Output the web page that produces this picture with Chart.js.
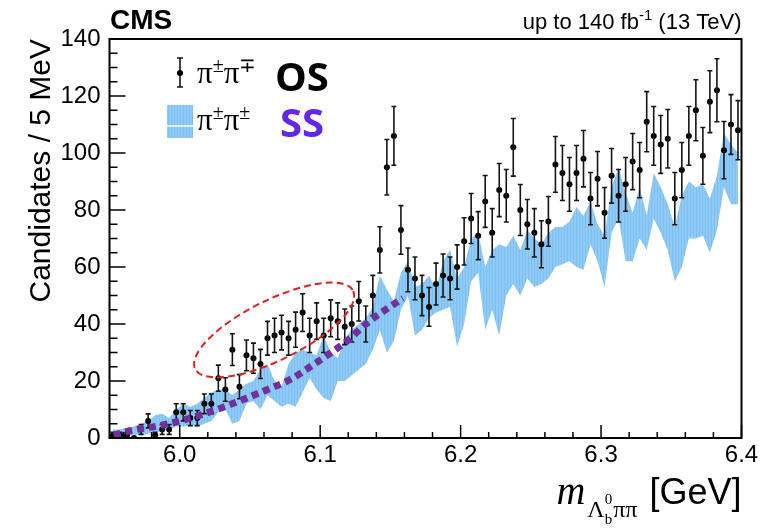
<!DOCTYPE html>
<html>
<head>
<meta charset="utf-8">
<script src="https://cdn.jsdelivr.net/npm/chart.js@4.4.1/dist/chart.umd.min.js"></script>
<style>
  html, body { margin: 0; padding: 0; background: #fff; }
  #wrap { width: 775px; height: 528px; }
</style>
</head>
<body>
<div id="wrap"><canvas id="massChart" width="775" height="528"></canvas></div>
<script>
// mass window, 5 MeV bins
const xMin = 5.95;
const xMax = 6.4;
const binWidth = 0.005;
const xTickLabels = [6.0, 6.1, 6.2, 6.3, 6.4];
const yTickLabels = [0, 20, 40, 60, 80, 100, 120, 140];

// opposite-sign pions (OS), candidates per bin
const osCounts = [
  1, 1, 1, 0, 3, 6, 1, 3, 3, 9,
  9, 7, 7, 12, 12, 21, 17, 31, 18, 29,
  28, 26, 35, 36, 37, 35, 38, 44, 36, 41,
  36, 42, 41, 39, 40, 48, 40, 50, 66, 95,
  106, 73, 59, 56, 50, 46, 54, 57, 56, 60,
  69, 77, 71, 83, 72, 87, 85, 102, 80, 75,
  72, 68, 76, 96, 93, 89, 93, 98, 84, 91,
  79, 92, 85, 89, 97, 94, 111, 106, 103, 105,
  84, 94, 106, 115, 99, 118, 122, 101, 110, 108
];

// same-sign pions (SS) band, lower / upper edge per bin
const ssLow = [
  0, 0, 0.5, 1, 1, 1.5, 2, 2.5, 3, 4,
  4, 4.5, 4, 5, 6, 9, 10, 5, 6, 12,
  13, 10, 15, 13, 11, 12, 11, 16, 21, 17,
  14, 13, 20, 20, 22, 24, 26, 31, 38, 30,
  34, 45, 50, 36, 38, 42, 44, 45, 46, 32,
  40, 55, 58, 38, 45, 36, 50, 54, 50, 56,
  53, 54, 56, 60, 61, 62, 60, 59, 68, 62,
  53, 72, 77, 62, 62, 70, 66, 77, 72, 66,
  55, 60, 70, 70, 71, 65, 73, 88, 82, 82
];
const ssHigh = [
  3, 3, 3.5, 4, 5, 6, 8, 8.5, 7, 10,
  12, 11, 12, 14, 16, 17, 17, 15, 17, 19,
  20, 24, 26, 20, 18, 26, 30, 31, 30, 29,
  36, 30, 28, 35, 38, 40, 42, 46, 57, 52,
  48, 58, 62, 53, 54, 57, 52, 62, 66, 56,
  60, 70, 72, 60, 66, 68, 67, 71, 66, 73,
  70, 68, 72, 74, 74, 76, 81, 78, 83, 75,
  71, 88, 95, 86, 79, 88, 78, 93, 88, 82,
  74, 85, 90, 88, 89, 84, 92, 107, 103, 100
];

// purple dotted guide over the low-mass region
const guideMass = [5.953, 5.965, 5.982, 5.998, 6.015, 6.031, 6.047, 6.063, 6.079, 6.093, 6.107, 6.120, 6.133, 6.148, 6.159];
const guideCounts = [1.0, 2.6, 4.0, 5.7, 8.1, 10.8, 13.9, 17.1, 20.6, 25.0, 29.7, 34.4, 40.2, 45.5, 49.0];

// red dashed ellipse: both ends of its long axis (GeV, candidates)
const ellipseEnds = [[6.0110, 24.2], [6.1235, 51.6]];

const binCenters = osCounts.map((_, i) => xMin + binWidth * (i + 0.5));

function bandPattern() {
  const c = document.createElement('canvas');
  c.width = 3; c.height = 3;
  const g = c.getContext('2d');
  g.fillStyle = '#8fcbf6';
  g.fillRect(0, 0, 3, 3);
  g.fillStyle = '#7cbff3';
  g.fillRect(0, 0, 1, 3);
  return g.createPattern(c, 'repeat');
}
const bandFill = bandPattern();

// error bars, inward ticks, frame, legend and titles (ROOT look)
const rootStyle = {
  id: 'rootStyle',
  afterDatasetDraw(chart, args) {
    if (args.meta.label !== 'OS') return;
    const ctx = chart.ctx, xs = chart.scales.x, ys = chart.scales.y;
    ctx.save();
    ctx.strokeStyle = '#151515';
    ctx.lineWidth = 1.6;
    osCounts.forEach((n, i) => {
      if (n <= 0) return;
      const err = Math.sqrt(n);
      const px = xs.getPixelForValue(binCenters[i]);
      const top = ys.getPixelForValue(n + err);
      const bot = ys.getPixelForValue(Math.max(0, n - err));
      ctx.beginPath();
      ctx.moveTo(px, top); ctx.lineTo(px, bot);
      ctx.moveTo(px - 2.5, top); ctx.lineTo(px + 2.5, top);
      ctx.moveTo(px - 2.5, bot); ctx.lineTo(px + 2.5, bot);
      ctx.stroke();
    });
    ctx.restore();
  },
  afterDraw(chart) {
    const ctx = chart.ctx, xs = chart.scales.x, ys = chart.scales.y;
    const a = chart.chartArea;
    ctx.save();

    // ellipse
    const p1 = [xs.getPixelForValue(ellipseEnds[0][0]), ys.getPixelForValue(ellipseEnds[0][1])];
    const p2 = [xs.getPixelForValue(ellipseEnds[1][0]), ys.getPixelForValue(ellipseEnds[1][1])];
    const cx = (p1[0] + p2[0]) / 2, cy = (p1[1] + p2[1]) / 2;
    const semi = Math.hypot(p2[0] - p1[0], p2[1] - p1[1]) / 2;
    const ang = Math.atan2(p2[1] - p1[1], p2[0] - p1[0]);
    ctx.strokeStyle = '#e3201b';
    ctx.lineWidth = 2;
    ctx.setLineDash([7, 4]);
    ctx.beginPath();
    ctx.ellipse(cx, cy, semi, 30, ang, 0, Math.PI * 2);
    ctx.stroke();
    ctx.setLineDash([]);

    // frame
    ctx.strokeStyle = '#000';
    ctx.lineWidth = 2;
    ctx.strokeRect(a.left, a.top, a.right - a.left, a.bottom - a.top);

    // inward ticks
    ctx.lineWidth = 1.5;
    ctx.beginPath();
    for (let v = 0; v <= 140; v += 5) {
      const py = ys.getPixelForValue(v);
      const len = v % 20 === 0 ? 16 : 8;
      ctx.moveTo(a.left, py); ctx.lineTo(a.left + len, py);
    }
    for (let k = 298; k <= 320; k++) {
      const px = xs.getPixelForValue(k * 0.02);
      const len = k % 5 === 0 ? 13 : 6;
      ctx.moveTo(px, a.bottom); ctx.lineTo(px, a.bottom - len);
    }
    ctx.stroke();

    ctx.fillStyle = '#000';
    ctx.textBaseline = 'alphabetic';

    // top labels
    ctx.font = 'bold 28px "Liberation Sans"';
    ctx.textAlign = 'left';
    ctx.fillText('CMS', 110, 29);

    ctx.font = '22px "Liberation Sans"';
    ctx.textAlign = 'right';
    const tail = ' (13 TeV)';
    ctx.fillText(tail, a.right, 29);
    let xr = a.right - ctx.measureText(tail).width;
    ctx.font = '15px "Liberation Sans"';
    ctx.fillText('-1', xr, 20);
    xr -= ctx.measureText('-1').width;
    ctx.font = '22px "Liberation Sans"';
    ctx.fillText('up to 140 fb', xr, 29);

    // y title
    ctx.save();
    ctx.translate(50, a.top);
    ctx.rotate(-Math.PI / 2);
    ctx.font = '30px "Liberation Sans"';
    ctx.textAlign = 'right';
    ctx.fillText('Candidates / 5 MeV', 0, 0);
    ctx.restore();

    // x title: m_{Λb0 ππ} [GeV]
    ctx.textAlign = 'left';
    ctx.font = '36px "Liberation Sans"';
    const gev = '[GeV]';
    let xp = a.right - ctx.measureText(gev).width;
    ctx.fillText(gev, xp, 504);
    ctx.font = '24px "Liberation Serif"';
    const pp = 'ππ';
    xp -= 12 + ctx.measureText(pp).width;
    ctx.fillText(pp, xp, 517);
    ctx.font = '15px "Liberation Serif"';
    xp -= ctx.measureText('b').width + 1;
    ctx.fillText('b', xp, 524);
    ctx.fillText('0', xp, 504);
    ctx.font = '24px "Liberation Serif"';
    xp -= ctx.measureText('Λ').width;
    ctx.fillText('Λ', xp, 517);
    ctx.font = 'italic 40px "Liberation Serif"';
    xp -= ctx.measureText('m').width + 2;
    ctx.fillText('m', xp, 504);

    // legend
    ctx.strokeStyle = '#151515';
    ctx.lineWidth = 1.6;
    ctx.beginPath();
    ctx.moveTo(180, 58); ctx.lineTo(180, 87);
    ctx.moveTo(177, 58); ctx.lineTo(183, 58);
    ctx.moveTo(177, 87); ctx.lineTo(183, 87);
    ctx.stroke();
    ctx.beginPath();
    ctx.arc(180, 73, 3, 0, Math.PI * 2);
    ctx.fill();

    ctx.fillStyle = bandFill;
    ctx.fillRect(167, 105, 26, 33);
    ctx.strokeStyle = '#ffffff';
    ctx.lineWidth = 1.5;
    ctx.beginPath();
    ctx.moveTo(167, 126); ctx.lineTo(193, 126);
    ctx.stroke();

    ctx.fillStyle = '#000';
    const pions = (x, y, s1, s2) => {
      ctx.font = '31px "Liberation Serif"';
      ctx.fillText('π', x, y);
      x += ctx.measureText('π').width;
      ctx.font = '20px "Liberation Serif"';
      ctx.fillText(s1, x, y - 11);
      x += ctx.measureText(s1).width;
      ctx.font = '31px "Liberation Serif"';
      ctx.fillText('π', x, y);
      x += ctx.measureText('π').width;
      ctx.font = '20px "Liberation Serif"';
      ctx.fillText(s2, x, y - 11);
    };
    pions(197, 83, '±', '∓');
    pions(197, 130, '±', '±');

    ctx.font = 'bold 40px "Open Sans"';
    ctx.fillText('OS', 275, 91);
    ctx.fillStyle = '#6326ee';
    ctx.fillText('SS', 280, 137);

    ctx.restore();
  }
};

const ctx = document.getElementById('massChart').getContext('2d');
Chart.defaults.font.family = '"Liberation Sans", Arial, sans-serif';
Chart.defaults.color = '#000';

new Chart(ctx, {
  type: 'scatter',
  data: {
    datasets: [
      {
        label: 'guide',
        type: 'line',
        data: guideMass.map((m, i) => ({ x: m, y: guideCounts[i] })),
        borderColor: '#7030a0',
        borderWidth: 7,
        borderDash: [7, 5],
        borderCapStyle: 'butt',
        pointRadius: 0,
        cubicInterpolationMode: 'monotone',
        fill: false,
        order: 0
      },
      {
        label: 'OS',
        data: osCounts.map((n, i) => ({ x: binCenters[i], y: n })),
        pointRadius: 3,
        pointBackgroundColor: '#000',
        pointBorderWidth: 0,
        showLine: false,
        order: 1
      },
      {
        label: 'SS high',
        type: 'line',
        data: ssHigh.map((v, i) => ({ x: binCenters[i], y: v })),
        borderWidth: 0,
        pointRadius: 0,
        tension: 0,
        backgroundColor: bandFill,
        fill: '+1',
        order: 2
      },
      {
        label: 'SS low',
        type: 'line',
        data: ssLow.map((v, i) => ({ x: binCenters[i], y: v })),
        borderWidth: 0,
        pointRadius: 0,
        tension: 0,
        fill: false,
        order: 3
      }
    ]
  },
  options: {
    responsive: false,
    animation: false,
    layout: { padding: { top: 39, right: 33.5, left: 0, bottom: 0 } },
    plugins: {
      legend: { display: false },
      tooltip: { enabled: false }
    },
    scales: {
      x: {
        type: 'linear',
        min: xMin,
        max: xMax,
        grid: { display: false, drawTicks: false },
        border: { display: false },
        afterFit: s => { s.height = 90; },
        afterBuildTicks: s => { s.ticks = xTickLabels.map(v => ({ value: v })); },
        ticks: {
          font: { size: 24 },
          color: '#000',
          padding: 3,
          maxRotation: 0,
          callback: v => Number(v).toFixed(1)
        }
      },
      y: {
        min: 0,
        max: 140,
        grid: { display: false, drawTicks: false },
        border: { display: false },
        afterFit: s => { s.width = 109.5; },
        afterBuildTicks: s => { s.ticks = yTickLabels.map(v => ({ value: v })); },
        ticks: {
          font: { size: 24 },
          color: '#000',
          padding: 9
        }
      }
    }
  },
  plugins: [rootStyle]
});
</script>
</body>
</html>
